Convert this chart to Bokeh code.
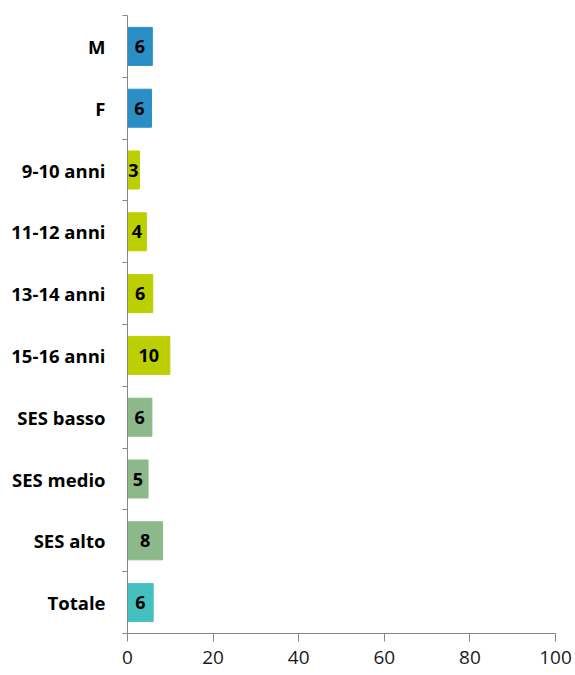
from bokeh.plotting import figure
from bokeh.models import ColumnDataSource, Range1d, FixedTicker
from bokeh.core.properties import value
from bokeh.embed import file_html
from bokeh.resources import INLINE

categories = ["M", "F", "9-10 anni", "11-12 anni", "13-14 anni", "15-16 anni",
              "SES basso", "SES medio", "SES alto", "Totale"]
values = [5.8, 5.6, 2.8, 4.4, 5.9, 9.9, 5.7, 4.8, 8.2, 6.0]
labels = ["6", "6", "3", "4", "6", "10", "6", "5", "8", "6"]
colors = ["#2a8fc6", "#2a8fc6", "#bccf02", "#bccf02", "#bccf02", "#bccf02",
          "#8db98a", "#8db98a", "#8db98a", "#45c0c0"]
x_ticks = [0, 20, 40, 60, 80, 100]

n = len(categories)
ypos = [n - 1 - i for i in range(n)]
src = ColumnDataSource(dict(y=ypos, v=values, mid=[v / 2 for v in values],
                            lab=labels, color=colors))

p = figure(width=575, height=675, output_backend="svg", toolbar_location=None,
           x_range=Range1d(0, 100), y_range=Range1d(-0.5, n - 0.5),
           min_border_left=127, min_border_right=20, min_border_top=15,
           min_border_bottom=42)
p.outline_line_color = None
p.xgrid.grid_line_color = None
p.ygrid.grid_line_color = None
p.background_fill_color = "white"
p.border_fill_color = "white"

p.hbar(y="y", right="v", left=0, height=0.615, color="color", source=src)
p.text(x="mid", y="y", text="lab", source=src, text_align="center",
       text_baseline="middle", text_font=value("Open Sans"),
       text_font_style="bold", text_font_size="18px", text_color="#000000")

ax = p.xaxis[0]
ax.ticker = FixedTicker(ticks=x_ticks)
ax.axis_line_color = "#868686"
ax.major_tick_line_color = "#868686"
ax.major_tick_out = 8
ax.major_tick_in = 0
ax.minor_tick_line_color = None
ax.major_label_text_font = "Open Sans"
ax.major_label_text_font_size = "19px"
ax.major_label_text_color = "#1a1a1a"
ax.major_label_standoff = 9

ay = p.yaxis[0]
ay.ticker = FixedTicker(ticks=ypos, minor_ticks=[i - 0.5 for i in range(n + 1)])
ay.major_label_overrides = {y: c for y, c in zip(ypos, categories)}
ay.axis_line_color = "#868686"
ay.major_tick_line_color = None
ay.major_tick_out = 0
ay.major_tick_in = 0
ay.minor_tick_line_color = "#868686"
ay.minor_tick_out = 5
ay.minor_tick_in = 0
ay.major_label_text_font = "Open Sans"
ay.major_label_text_font_style = "bold"
ay.major_label_text_font_size = "18.5px"
ay.major_label_text_color = "#000000"
ay.major_label_standoff = 17

open("out.html", "w").write(file_html(p, INLINE))
